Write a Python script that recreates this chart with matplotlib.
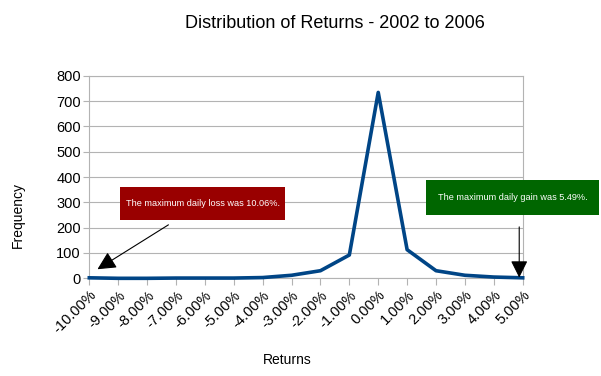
import matplotlib
matplotlib.use("Agg")
import matplotlib.pyplot as plt
from matplotlib.patches import Rectangle

# data
returns = ["-10.00%", "-9.00%", "-8.00%", "-7.00%", "-6.00%", "-5.00%", "-4.00%", "-3.00%",
           "-2.00%", "-1.00%", "0.00%", "1.00%", "2.00%", "3.00%", "4.00%", "5.00%"]
frequency = [2, 0, 0, 1, 1, 1, 3, 12, 30, 92, 734, 113, 30, 12, 5, 2]
y_ticks = [0, 100, 200, 300, 400, 500, 600, 700, 800]

GRID = "#b3b3b3"
LINE = "#004586"

plt.rcParams["font.family"] = ["Liberation Sans", "DejaVu Sans"]

fig = plt.figure(figsize=(6.01, 3.76), dpi=100)
ax = fig.add_axes([0.1486, 0.2598, 0.7211, 0.5389])

x = list(range(len(returns)))
ax.plot(x, frequency, color=LINE, lw=2.6, solid_joinstyle="round", clip_on=False, zorder=3)

ax.set_xlim(0, len(returns) - 1)
ax.set_ylim(0, 800)
ax.set_yticks(y_ticks)
ax.set_xticks(x)
ax.set_xticklabels(returns, rotation=45, ha="right", rotation_mode="anchor", fontsize=10.5)
ax.tick_params(axis="y", labelsize=10.5, length=4, color=GRID, pad=2)
ax.tick_params(axis="x", length=5, color=GRID, pad=2)
ax.grid(axis="y", color=GRID, lw=0.8)
ax.set_axisbelow(True)
for s in ax.spines.values():
    s.set_color(GRID)
    s.set_linewidth(0.8)

fig.text(335 / 601, 1 - 23 / 376, "Distribution of Returns - 2002 to 2006",
         ha="center", va="center", fontsize=13)
fig.text(18 / 601, 1 - 215 / 376, "Frequency", rotation=90, ha="center", va="center", fontsize=10)
fig.text(287 / 601, 1 - 360 / 376, "Returns", ha="center", va="center", fontsize=10)


def box(x0, y0, x1, y1, color, label):
    fig.add_artist(Rectangle((x0 / 601, 1 - y1 / 376), (x1 - x0) / 601, (y1 - y0) / 376,
                             transform=fig.transFigure, facecolor=color, edgecolor="none",
                             zorder=5))
    fig.text((x0 + x1) / 2 / 601, 1 - (y0 + y1) / 2 / 376, label, ha="center", va="center",
             color="white", fontsize=6.6, zorder=6)


box(120, 187, 285, 220, "#990000", "The maximum daily loss was 10.06%.")
box(426, 180, 599, 215, "#006600", "The maximum daily gain was 5.49%.")

ax.annotate("", xy=(0.2, 30), xytext=(2.82, 217),
            arrowprops=dict(arrowstyle="-|>", mutation_scale=28, lw=0.8, color="black"),
            annotation_clip=False, zorder=7)
ax.annotate("", xy=(14.88, -8), xytext=(14.88, 214),
            arrowprops=dict(arrowstyle="-|>", mutation_scale=26, lw=0.8, color="black"),
            annotation_clip=False, zorder=7)

fig.savefig("out.png", dpi=100, facecolor="white")
